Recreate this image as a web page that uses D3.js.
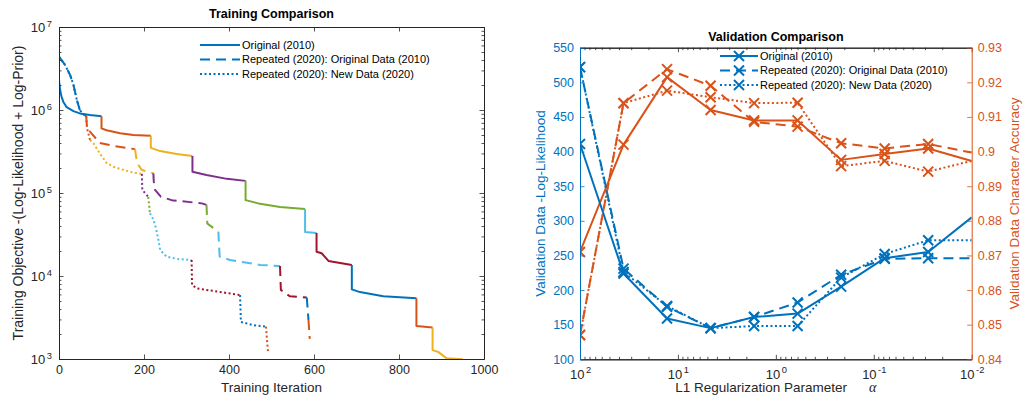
<!DOCTYPE html>
<html><head><meta charset="utf-8">
<script src="https://cdn.jsdelivr.net/npm/d3@7"></script>
<style>
body{margin:0;background:#fff}
text{font-family:"Liberation Sans",Arial,Helvetica,sans-serif}
</style>
</head><body>
<svg id="c" width="1027" height="403"></svg>
<script>
// ---------------- DATA ----------------
// Training comparison: each series is a list of colored segments of [iteration, objective]
const trainColors = ["#0072BD","#D95319","#EDB120","#7E2F8E","#77AC30","#4DBEEE","#A2142F"];
const trainOriginal = [
  [[0,2.3e6],[2,1.85e6],[4,1.6e6],[6,1.45e6],[10,1.26e6],[18,1.08e6],[34,9.7e5],[49,9.1e5],[73,8.7e5],[100,8.4e5]],
  [[100,8.4e5],[100,6.0e5],[112,5.7e5],[144,5.25e5],[175,5.0e5],[216,4.9e5]],
  [[216,4.9e5],[216,3.5e5],[238,3.2e5],[277,2.95e5],[314,2.8e5]],
  [[314,2.8e5],[314,1.8e5],[347,1.65e5],[395,1.48e5],[439,1.40e5]],
  [[439,1.4e5],[439,8.2e4],[473,7.4e4],[520,6.8e4],[579,6.4e4]],
  [[579,6.4e4],[579,3.4e4],[606,3.3e4]],
  [[606,3.3e4],[606,1.96e4],[618,1.88e4],[634,1.52e4],[689,1.36e4]],
  [[689,1.36e4],[689,6.9e3],[708,6.4e3],[763,5.7e3],[841,5.4e3]],
  [[841,5.4e3],[841,2.5e3],[879,2.4e3]],
  [[879,2.4e3],[879,1.28e3],[892,1.22e3],[912,1.02e3],[950,0.99e3]]
];
const trainRepOriginal = [
  [[0,4.4e6],[14,3.5e6],[26,2.65e6],[34,2.0e6],[42,1.32e6],[49,1.0e6],[57,8.9e5],[64,8.5e5]],
  [[64,8.5e5],[66,6.0e5],[77,5.2e5],[96,4.0e5],[128,3.7e5],[179,3.37e5]],
  [[179,3.37e5],[182,2.6e5],[187,2.17e5],[195,1.89e5],[222,1.73e5]],
  [[222,1.73e5],[223,1.38e5],[226,1.09e5],[240,9.0e4],[265,8.2e4],[336,7.5e4],[347,7.2e4]],
  [[347,7.2e4],[349,4.3e4],[354,4.1e4],[375,3.42e4]],
  [[375,3.42e4],[378,1.71e4],[402,1.56e4],[473,1.36e4],[520,1.32e4]],
  [[520,1.32e4],[522,6.8e3],[543,5.7e3],[583,5.5e3]],
  [[583,5.5e3],[587,2.95e3]],
  [[587,2.95e3],[590,1.75e3]]
];
const trainRepNew = [
  [[0,4.4e6],[14,3.5e6],[26,2.65e6],[34,2.0e6],[42,1.32e6],[49,1.0e6],[57,8.9e5],[64,8.5e5]],
  [[64,8.5e5],[66,6.0e5],[73,4.35e5]],
  [[73,4.35e5],[81,3.97e5],[96,3.0e5],[112,2.3e5],[128,2.07e5],[144,1.95e5],[175,1.76e5],[195,1.7e5]],
  [[195,1.7e5],[196,1.09e5],[210,9.0e4]],
  [[210,9.0e4],[214,5.7e4]],
  [[214,5.7e4],[222,4.8e4],[228,3.8e4],[234,2.7e4],[238,2.06e4],[253,1.71e4],[280,1.6e4],[312,1.56e4]],
  [[312,1.56e4],[313,7.8e3],[324,7.1e3],[347,6.8e3],[426,5.9e3]],
  [[426,5.9e3],[428,2.8e3],[455,2.57e3],[487,2.45e3]],
  [[487,2.45e3],[492,1.17e3]]
];
const trainXTicks = [0,200,400,600,800,1000];
const trainYTicks = [1e3,1e4,1e5,1e6,1e7];

// Validation comparison
const alphas = [100, 35.94, 12.92, 4.642, 1.668, 0.5995, 0.2154, 0.07743, 0.02783, 0.01];
const nllOriginal = [411, 224, 159, 145, 161, 166, 205, 246, 255, 305];
const nllRepOriginal = [522, 231, 176, 145, 161, 182, 222, 245, 246, 246];
const nllRepNew = [522, 226, 177, 145, 148, 148, 218, 252, 272, 272];
const accOriginal = [0.871, 0.902, 0.9215, 0.912, 0.909, 0.909, 0.8976, 0.8993, 0.9009, 0.8973];
const accRepOriginal = [0.847, 0.914, 0.9238, 0.919, 0.9086, 0.9072, 0.9024, 0.9009, 0.9022, 0.8997];
const accRepNew = [0.847, 0.914, 0.9176, 0.9157, 0.914, 0.9141, 0.8958, 0.8973, 0.8942, 0.8973];
const alphaTicks = [100, 10, 1, 0.1, 0.01];
const nllTicks = [100,150,200,250,300,350,400,450,500,550];
const accTicks = [0.84,0.85,0.86,0.87,0.88,0.89,0.90,0.91,0.92,0.93];

const legendLabels = ["Original (2010)","Repeated (2020): Original Data (2010)","Repeated (2020): New Data (2020)"];

// ---------------- STYLE ----------------
const GRAY = "#262626";
const BLUE = "#0072BD", ORANGE = "#D95319";
const DASHES = [null, "10,6", "2,2.5"];
const LW = 2;

const svg = d3.select("#c");

function supLabel(sel, d){
  const e = Math.round(Math.log10(d));
  sel.text("");
  sel.append("tspan").text("10");
  sel.append("tspan").attr("dx","1.5").attr("dy","-0.55em").attr("font-size","0.72em").text(String(e));
}
function styleAxis(g, color, fs){
  g.selectAll("path.domain").attr("stroke", color).attr("stroke-width",1);
  g.selectAll(".tick line").attr("stroke", color).attr("stroke-width",0.8);
  g.selectAll(".tick text").attr("fill", color).attr("font-size", fs).attr("font-family","'Liberation Sans',Arial,sans-serif");
}

// ================= LEFT CHART =================
const L = {x0:59, x1:484, y0:27, y1:359};
const xL = d3.scaleLinear().domain([0,1000]).range([L.x0,L.x1]);
const yL = d3.scaleLog().domain([1e3,1e7]).range([L.y1,L.y0]);
const yLMinor = yL.ticks().filter(v => !trainYTicks.some(t => Math.abs(t - v) < 1e-6*t));

svg.append("clipPath").attr("id","clipL").append("rect")
  .attr("x",L.x0).attr("y",L.y0).attr("width",L.x1-L.x0).attr("height",L.y1-L.y0);

const gL = svg.append("g");
const plotL = gL.append("g").attr("clip-path","url(#clipL)");
const lineL = d3.line().x(d => xL(d[0])).y(d => yL(d[1]));
[trainOriginal, trainRepOriginal, trainRepNew].forEach((segs, si) => {
  segs.forEach((s, i) => {
    plotL.append("path").attr("d", lineL(s)).attr("fill","none")
      .attr("stroke", trainColors[i % trainColors.length]).attr("stroke-width", LW)
      .attr("stroke-dasharray", DASHES[si]).attr("stroke-linejoin","round");
  });
});

// axes
const axBL = gL.append("g").attr("transform",`translate(0,${L.y1})`)
  .call(d3.axisBottom(xL).tickValues(trainXTicks).tickSize(-4.5).tickSizeOuter(0).tickPadding(6).tickFormat(d3.format("d")));
styleAxis(axBL, GRAY, "12.5px");
const axTL = gL.append("g").attr("transform",`translate(0,${L.y0})`)
  .call(d3.axisTop(xL).tickValues(trainXTicks).tickSize(-4.5).tickSizeOuter(0).tickFormat(""));
styleAxis(axTL, GRAY, "12px");
const axLL = gL.append("g").attr("transform",`translate(${L.x0},0)`)
  .call(d3.axisLeft(yL).tickValues(trainYTicks).tickSize(-4.5).tickSizeOuter(0).tickPadding(7));
styleAxis(axLL, GRAY, "13px");
axLL.selectAll(".tick text").each(function(d){ supLabel(d3.select(this), d); });
const axLLm = gL.append("g").attr("transform",`translate(${L.x0},0)`)
  .call(d3.axisLeft(yL).tickValues(yLMinor).tickSize(-2.5).tickSizeOuter(0).tickFormat(""));
styleAxis(axLLm, GRAY, "12px");
const axRL = gL.append("g").attr("transform",`translate(${L.x1},0)`)
  .call(d3.axisRight(yL).tickValues(trainYTicks).tickSize(-4.5).tickSizeOuter(0).tickFormat(""));
styleAxis(axRL, GRAY, "12px");
const axRLm = gL.append("g").attr("transform",`translate(${L.x1},0)`)
  .call(d3.axisRight(yL).tickValues(yLMinor).tickSize(-2.5).tickSizeOuter(0).tickFormat(""));
styleAxis(axRLm, GRAY, "12px");

gL.append("text").attr("x",(L.x0+L.x1)/2).attr("y",18).attr("text-anchor","middle")
  .attr("font-weight","bold").attr("font-size","12.5px").attr("fill","#000").text("Training Comparison");
gL.append("text").attr("x",(L.x0+L.x1)/2).attr("y",392).attr("text-anchor","middle")
  .attr("font-size","13.5px").attr("fill",GRAY).text("Training Iteration");
gL.append("text").attr("transform",`translate(18,${(L.y0+L.y1)/2}) rotate(-90)`).attr("dy","0.35em")
  .attr("text-anchor","middle").attr("font-size","14px").attr("fill",GRAY)
  .text("Training Objective -(Log-Likelihood + Log-Prior)");

// legend
const legL = gL.append("g");
legendLabels.forEach((lab, i) => {
  const y = 45 + i*14.5;
  legL.append("line").attr("x1",200).attr("x2",240).attr("y1",y).attr("y2",y)
    .attr("stroke",BLUE).attr("stroke-width",LW).attr("stroke-dasharray",DASHES[i]);
  legL.append("text").attr("x",242).attr("y",y).attr("dy","0.35em").attr("font-size","11px")
    .attr("fill","#000").text(lab);
});

// ================= RIGHT CHART =================
const R = {x0:580, x1:971.7, y0:47.7, y1:359.3};
const xR = d3.scaleLog().domain([100,0.01]).range([R.x0,R.x1]);
const yRL = d3.scaleLinear().domain([100,550]).range([R.y1,R.y0]);
const yRR = d3.scaleLinear().domain([0.84,0.93]).range([R.y1,R.y0]);
const xRMinor = xR.ticks().filter(v => !alphaTicks.some(t => Math.abs(t - v) < 1e-6*t));

svg.append("clipPath").attr("id","clipR").append("rect")
  .attr("x",R.x0).attr("y",R.y0).attr("width",R.x1-R.x0).attr("height",R.y1-R.y0);
const gR = svg.append("g");
const plotR = gR.append("g").attr("clip-path","url(#clipR)");

const xMark = "M-5,-5L5,5M-5,5L5,-5";
function drawValSeries(vals, yScale, color, dash){
  const pts = alphas.map((a,i) => [a, vals[i]]);
  plotR.append("path").attr("d", d3.line().x(d => xR(d[0])).y(d => yScale(d[1]))(pts))
    .attr("fill","none").attr("stroke",color).attr("stroke-width",LW)
    .attr("stroke-dasharray",dash).attr("stroke-linejoin","round");
  plotR.selectAll(null).data(pts.slice(0, pts.length-1)).enter().append("path")
    .attr("d", xMark).attr("transform", d => `translate(${xR(d[0])},${yScale(d[1])})`)
    .attr("fill","none").attr("stroke",color).attr("stroke-width",LW);
}
drawValSeries(accOriginal, yRR, ORANGE, DASHES[0]);
drawValSeries(accRepOriginal, yRR, ORANGE, DASHES[1]);
drawValSeries(accRepNew, yRR, ORANGE, DASHES[2]);
drawValSeries(nllOriginal, yRL, BLUE, DASHES[0]);
drawValSeries(nllRepOriginal, yRL, BLUE, DASHES[1]);
drawValSeries(nllRepNew, yRL, BLUE, DASHES[2]);

const axBR = gR.append("g").attr("transform",`translate(0,${R.y1})`)
  .call(d3.axisBottom(xR).tickValues(alphaTicks).tickSize(-4.5).tickSizeOuter(0).tickPadding(10));
styleAxis(axBR, GRAY, "13px");
axBR.selectAll(".tick text").each(function(d){ supLabel(d3.select(this), d); });
const axBRm = gR.append("g").attr("transform",`translate(0,${R.y1})`)
  .call(d3.axisBottom(xR).tickValues(xRMinor).tickSize(-2.5).tickSizeOuter(0).tickFormat(""));
styleAxis(axBRm, GRAY, "12px");
const axTR = gR.append("g").attr("transform",`translate(0,${R.y0})`)
  .call(d3.axisTop(xR).tickValues(alphaTicks).tickSize(-4.5).tickSizeOuter(0).tickFormat(""));
styleAxis(axTR, GRAY, "12px");
const axTRm = gR.append("g").attr("transform",`translate(0,${R.y0})`)
  .call(d3.axisTop(xR).tickValues(xRMinor).tickSize(-2.5).tickSizeOuter(0).tickFormat(""));
styleAxis(axTRm, GRAY, "12px");
const axLR = gR.append("g").attr("transform",`translate(${R.x0},0)`)
  .call(d3.axisLeft(yRL).tickValues(nllTicks).tickSize(-4.5).tickSizeOuter(0).tickPadding(6));
styleAxis(axLR, BLUE, "12.5px");
const axRR = gR.append("g").attr("transform",`translate(${R.x1},0)`)
  .call(d3.axisRight(yRR).tickValues(accTicks).tickSize(-4.5).tickSizeOuter(0).tickPadding(6)
    .tickFormat(d => String(+d.toFixed(2))));
styleAxis(axRR, ORANGE, "12.5px");

gR.append("text").attr("x",(R.x0+R.x1)/2).attr("y",41).attr("text-anchor","middle")
  .attr("font-weight","bold").attr("font-size","12.5px").attr("fill","#000").text("Validation Comparison");
const xlab = gR.append("text").attr("x",(R.x0+R.x1)/2).attr("y",392).attr("text-anchor","middle")
  .attr("font-size","13.5px").attr("fill",GRAY);
xlab.append("tspan").text("L1 Regularization Parameter");
xlab.append("tspan").attr("dx","22").attr("font-family","'Liberation Serif','Times New Roman',serif")
  .attr("font-style","italic").attr("font-size","14px").text("α");
gR.append("text").attr("transform",`translate(540,${(R.y0+R.y1)/2}) rotate(-90)`).attr("dy","0.35em")
  .attr("text-anchor","middle").attr("font-size","13.5px").attr("fill",BLUE)
  .text("Validation Data -Log-Likelihood");
gR.append("text").attr("transform",`translate(1014,${(R.y0+R.y1)/2}) rotate(-90)`).attr("dy","0.35em")
  .attr("text-anchor","middle").attr("font-size","13.5px").attr("fill",ORANGE)
  .text("Validation Data Character Accuracy");

const legR = gR.append("g");
legendLabels.forEach((lab, i) => {
  const y = 56 + i*14.5;
  legR.append("line").attr("x1",720).attr("x2",758).attr("y1",y).attr("y2",y)
    .attr("stroke",BLUE).attr("stroke-width",LW).attr("stroke-dasharray",DASHES[i]);
  legR.append("path").attr("d",xMark).attr("transform",`translate(739,${y})`)
    .attr("fill","none").attr("stroke",BLUE).attr("stroke-width",LW);
  legR.append("text").attr("x",760).attr("y",y).attr("dy","0.35em").attr("font-size","11px")
    .attr("fill","#000").text(lab);
});
</script>
</body></html>
